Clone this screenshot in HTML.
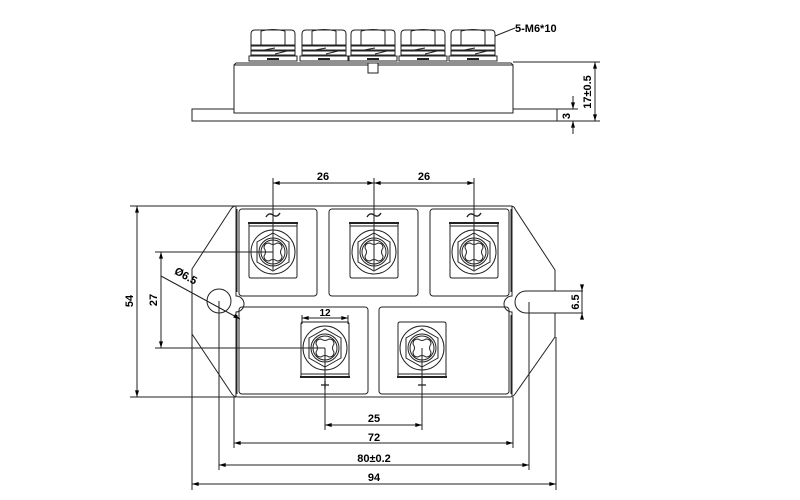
<!DOCTYPE html>
<html><head><meta charset="utf-8"><style>
html,body{margin:0;padding:0;background:#fff;}
svg{display:block;}
text{font-family:"Liberation Sans",sans-serif;font-weight:bold;fill:#000;}
</style></head><body>
<svg width="800" height="500" viewBox="0 0 800 500" xmlns="http://www.w3.org/2000/svg">
<defs>
<marker id="a" viewBox="0 0 10 6" refX="10" refY="3" markerWidth="8" markerHeight="4" orient="auto-start-reverse" markerUnits="userSpaceOnUse"><path d="M0,0 L10,3 L0,6z" fill="#000"/></marker>
<g id="nut" fill="#fff" stroke="#222" stroke-width="1">
  <path d="M-22,45 L-22,34 Q-22,30 -18,30 L18,30 Q22,30 22,34 L22,45 Z"/>
  <line x1="-12" y1="31" x2="-12" y2="45"/><line x1="12" y1="31" x2="12" y2="45"/>
  <path d="M-12,31 Q0,28 12,31" fill="none"/>
  <rect x="-22" y="46" width="44" height="4"/>
  <rect x="-22" y="51" width="44" height="4"/>
  <line x1="-14" y1="51" x2="2" y2="48"/><line x1="2" y1="54" x2="18" y2="50"/>
  <rect x="-24" y="56" width="48" height="5"/>
  <line x1="-6" y1="59" x2="6" y2="59" stroke-width="2"/>
</g>
<g id="term" fill="none" stroke="#222" stroke-width="1">
  <path d="M-24,-29 L-24,24 Q-24,26 -22,26 L22,26 Q24,26 24,24 L24,-29"/>
  <line x1="-25" y1="-29" x2="25" y2="-29" stroke-width="2"/>
  <line x1="-24" y1="-26" x2="24" y2="-26"/>
  <circle r="22"/>
  <polygon points="0,-19 16,-10 16,10 0,19 -16,10 -16,-10"/>
  <circle r="14"/><circle r="12"/>
  <path d="M-4,-9 Q0,-6 4,-9 Q9,-9 9,-4 Q6,0 9,4 Q9,9 4,9 Q0,6 -4,9 Q-9,9 -9,4 Q-6,0 -9,-4 Q-9,-9 -4,-9Z"/>
</g>
<path id="tl" d="M-7,2 Q-4,-3 0,0 Q4,3 7,-2" fill="none" stroke="#222" stroke-width="1.4"/>
</defs>

<!-- SIDE VIEW -->
<g stroke="#222" stroke-width="1" fill="none">
  <rect x="192" y="109" width="365" height="12"/>
  <rect x="234" y="65" width="279" height="48" fill="#fff"/>
  <line x1="236" y1="63" x2="511" y2="63"/>
  <line x1="234" y1="65" x2="236" y2="63"/><line x1="513" y1="65" x2="511" y2="63"/>
  <rect x="368" y="63" width="10" height="10" fill="#fff"/>
</g>
<use href="#nut" x="273" y="0"/><use href="#nut" x="324" y="0"/><use href="#nut" x="373" y="0"/><use href="#nut" x="423" y="0"/><use href="#nut" x="473" y="0"/>
<g stroke="#222" stroke-width="1" fill="none">
  <line x1="495" y1="36" x2="515" y2="28"/>
  <line x1="513" y1="62" x2="600" y2="62"/>
  <line x1="557" y1="121" x2="600" y2="121"/>
  <line x1="557" y1="109" x2="578" y2="109"/>
  <line x1="595" y1="62" x2="595" y2="121" marker-start="url(#a)" marker-end="url(#a)"/>
  <line x1="573" y1="96" x2="573" y2="109" marker-end="url(#a)"/>
  <line x1="573" y1="134" x2="573" y2="121" marker-end="url(#a)"/>
</g>
<text x="515" y="32" font-size="11">5-M6*10</text>
<text transform="translate(591,92) rotate(-90)" font-size="11" text-anchor="middle">17±0.5</text>
<text transform="translate(570,116) rotate(-90)" font-size="11" text-anchor="middle">3</text>

<!-- TOP VIEW -->
<g stroke="#222" stroke-width="1" fill="none">
  <path d="M233,206 L511,206 Q514,206 515,209 L555,270 L555,291 M555,313 L555,337 L515,394 Q513,397 510,397 L238,397 Q234,397 232,394 L192,334 L192,269 L231,209 Q233,206 236,206"/>
  <path d="M236,206 L236,296 A8,8 0 0 1 236,312 L236,397"/>
  <path d="M237,209 L237,292 M237,315 L237,394"/>
  <path d="M512,206 L512,296 A8,8 0 0 0 512,312 L512,397"/>
  <path d="M511,209 L511,292 M511,315 L511,394"/>
  <rect x="239" y="209" width="78" height="87" rx="3"/>
  <rect x="329" y="209" width="89" height="87" rx="3"/>
  <rect x="430" y="209" width="79" height="87" rx="3"/>
  <rect x="239" y="307" width="129" height="87" rx="3"/>
  <rect x="379" y="307" width="130" height="87" rx="3"/>
  <circle cx="219" cy="301" r="12"/>
  <path d="M583,291 L526,291 A11,11 0 0 0 526,313 L583,313"/>
</g>
<use href="#term" x="273" y="252"/><use href="#term" x="374" y="252"/><use href="#term" x="474" y="252"/>
<g transform="translate(325,348) scale(1,-1)"><use href="#term"/></g>
<g transform="translate(422,348) scale(1,-1)"><use href="#term"/></g>
<use href="#tl" x="273" y="215"/><use href="#tl" x="374" y="215"/><use href="#tl" x="474" y="215"/>
<g stroke="#222" stroke-width="1.3"><line x1="321" y1="385" x2="329" y2="385"/><line x1="325" y1="381" x2="325" y2="389"/><line x1="418" y1="385" x2="426" y2="385"/></g>

<g stroke="#222" stroke-width="1" fill="none">
  <line x1="273" y1="178" x2="273" y2="270"/>
  <line x1="374" y1="178" x2="374" y2="270"/>
  <line x1="474" y1="178" x2="474" y2="270"/>
  <line x1="273" y1="183" x2="374" y2="183" marker-start="url(#a)" marker-end="url(#a)"/>
  <line x1="374" y1="183" x2="474" y2="183" marker-start="url(#a)" marker-end="url(#a)"/>
  <line x1="302" y1="315" x2="302" y2="324"/><line x1="348" y1="315" x2="348" y2="324"/>
  <line x1="302" y1="318" x2="348" y2="318" marker-start="url(#a)" marker-end="url(#a)"/>
  <line x1="130" y1="206" x2="236" y2="206"/><line x1="130" y1="397" x2="236" y2="397"/>
  <line x1="137" y1="206" x2="137" y2="397" marker-start="url(#a)" marker-end="url(#a)"/>
  <line x1="155" y1="252" x2="273" y2="252"/><line x1="155" y1="348" x2="325" y2="348"/>
  <line x1="161" y1="252" x2="161" y2="348" marker-start="url(#a)" marker-end="url(#a)"/>
  <line x1="161" y1="276" x2="240" y2="319" marker-end="url(#a)"/>
  <line x1="192" y1="334" x2="192" y2="490"/>
  <line x1="219" y1="301" x2="219" y2="470"/>
  <line x1="234" y1="397" x2="234" y2="448"/>
  <line x1="513" y1="397" x2="513" y2="448"/>
  <line x1="529" y1="302" x2="529" y2="470"/>
  <line x1="556" y1="337" x2="556" y2="490"/>
  <line x1="325" y1="348" x2="325" y2="430"/>
  <line x1="422" y1="348" x2="422" y2="430"/>
  <line x1="325" y1="425" x2="422" y2="425" marker-start="url(#a)" marker-end="url(#a)"/>
  <line x1="234" y1="443" x2="513" y2="443" marker-start="url(#a)" marker-end="url(#a)"/>
  <line x1="219" y1="465" x2="529" y2="465" marker-start="url(#a)" marker-end="url(#a)"/>
  <line x1="192" y1="484" x2="556" y2="484" marker-start="url(#a)" marker-end="url(#a)"/>
  <line x1="582" y1="285" x2="582" y2="291" marker-end="url(#a)"/>
  <line x1="582" y1="319" x2="582" y2="313" marker-end="url(#a)"/>
  <line x1="582" y1="291" x2="582" y2="313"/>
</g>
<g font-size="11" text-anchor="middle">
  <text x="323" y="180">26</text><text x="424" y="180">26</text>
  <text x="325" y="316" font-size="10">12</text>
  <text x="374" y="422">25</text><text x="374" y="441">72</text>
  <text x="374" y="462">80±0.2</text><text x="374" y="481">94</text>
  <text transform="translate(133,301) rotate(-90)">54</text>
  <text transform="translate(157,300) rotate(-90)">27</text>
  <text transform="translate(579,302) rotate(-90)">6.5</text>
  <text transform="translate(184,279) rotate(29)">Ø6.5</text>
</g>
</svg>
</body></html>
